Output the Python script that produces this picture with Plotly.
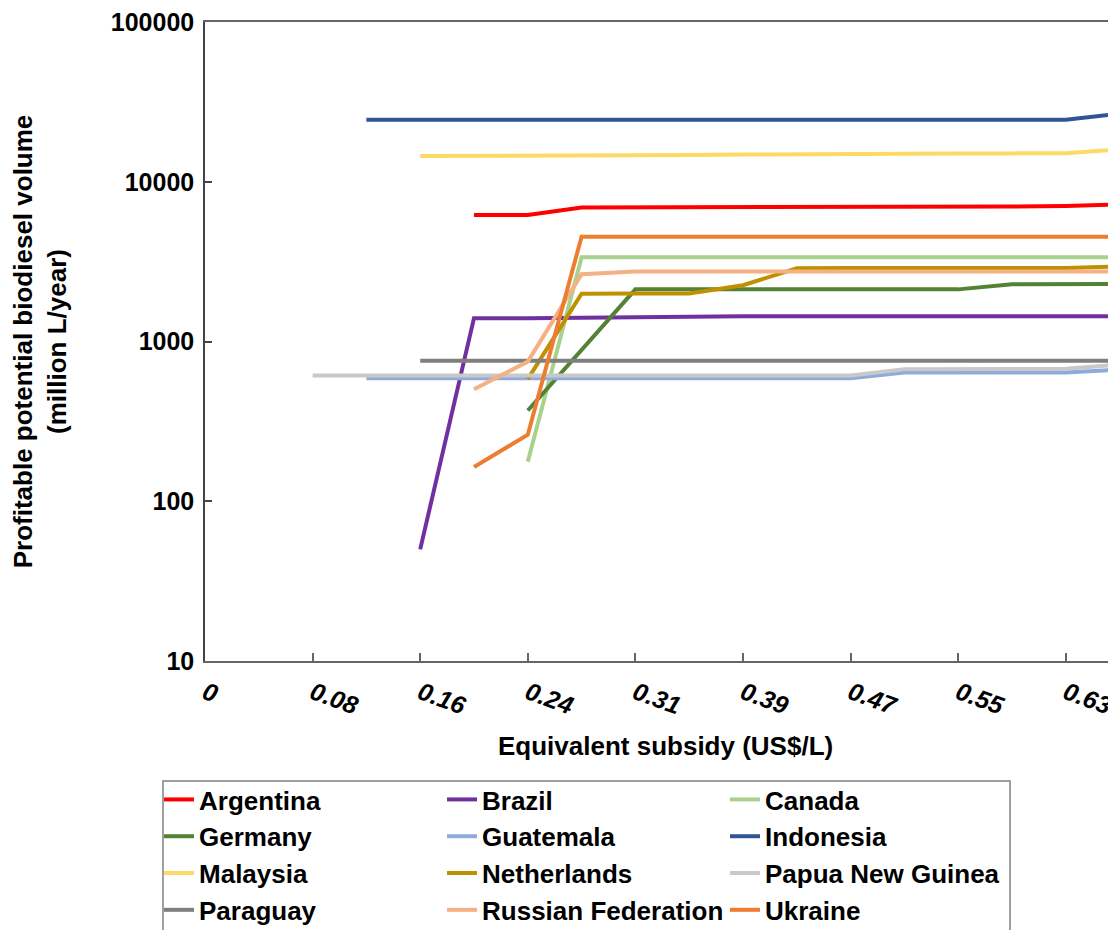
import plotly.graph_objects as go

# Equivalent subsidy (US$/L) at each data point
subsidy = [0.0, 0.0392, 0.0784, 0.1176, 0.1568, 0.1960, 0.2352, 0.2744, 0.3136,
           0.3528, 0.3920, 0.4312, 0.4704, 0.5096, 0.5488, 0.5880, 0.6272, 0.6664]

tick_vals = [0.0, 0.0784, 0.1568, 0.2352, 0.3136, 0.3920, 0.4704, 0.5488, 0.6272]
tick_text = ["0", "0.08", "0.16", "0.24", "0.31", "0.39", "0.47", "0.55", "0.63"]

y_tick_vals = [10, 100, 1000, 10000, 100000]
y_tick_text = ["10", "100", "1000", "10000", "100000"]

N = None
argentina = [N, N, N, N, N, 6200, 6200, 6900, 6900, 6900, 6900, 6900, 6900, 6950, 7000, 7000, 7050, 7200]
brazil = [N, N, N, N, 50, 1400, 1400, 1410, 1430, 1430, 1440, 1440, 1440, 1440, 1440, 1440, 1440, 1440]
canada = [N, N, N, N, N, N, 177, 3370, 3370, 3370, 3370, 3370, 3370, 3370, 3370, 3370, 3370, 3370]
germany = [N, N, N, N, N, N, 370, 890, 2120, 2120, 2120, 2120, 2120, 2120, 2120, 2280, 2280, 2290]
guatemala = [N, N, N, 589, 589, 589, 589, 589, 589, 589, 589, 589, 589, 639, 639, 639, 640, 665]
indonesia = [N, N, N, 24400, 24400, 24400, 24400, 24400, 24400, 24400, 24400, 24400, 24400, 24400, 24400, 24400, 24400, 26700]
malaysia = [N, N, N, N, 14500, 14500, 14500, 14500, 14600, 14700, 14800, 14900, 15000, 15000, 15000, 15050, 15100, 15900]
netherlands = [N, N, N, N, N, N, 581, 1990, 2000, 2000, 2250, 2870, 2880, 2880, 2880, 2880, 2880, 2950]
png = [N, N, 612, 612, 612, 612, 612, 612, 612, 612, 612, 612, 612, 671, 671, 671, 675, 717]
paraguay = [N, N, N, N, 757, 757, 757, 757, 757, 757, 757, 757, 757, 757, 757, 757, 757, 757]
russia = [N, N, N, N, N, 502, 748, 2640, 2740, 2740, 2740, 2740, 2740, 2740, 2740, 2740, 2740, 2740]
ukraine = [N, N, N, N, N, 164, 261, 4530, 4530, 4530, 4530, 4530, 4530, 4530, 4530, 4530, 4530, 4530]

series = [
    ("Argentina", argentina, "#FF0000"),
    ("Brazil", brazil, "#7030A0"),
    ("Canada", canada, "#A9D18E"),
    ("Germany", germany, "#548235"),
    ("Guatemala", guatemala, "#8FAADC"),
    ("Indonesia", indonesia, "#2F5597"),
    ("Malaysia", malaysia, "#FFD966"),
    ("Netherlands", netherlands, "#BF9000"),
    ("Papua New Guinea", png, "#C9C9C9"),
    ("Paraguay", paraguay, "#7F7F7F"),
    ("Russian Federation", russia, "#F4B183"),
    ("Ukraine", ukraine, "#ED7D31"),
]

FONT = "Liberation Sans, Arial, sans-serif"

fig = go.Figure()
for name, vals, color in series:
    fig.add_trace(go.Scatter(
        x=subsidy, y=vals, name=name, mode="lines",
        line=dict(color=color, width=4),
        connectgaps=False,
    ))

# page body has an 8px margin, so the figure is 8px smaller and margins shifted
fig.update_layout(
    width=1108, height=922,
    margin=dict(l=197, r=0, t=14, b=269),
    paper_bgcolor="white", plot_bgcolor="white",
    font=dict(family=FONT, size=26, color="black", weight="bold"),
    showlegend=True,
    legend=dict(
        orientation="h",
        xref="container", yref="container",
        x=0.1363, y=0.167, xanchor="left", yanchor="top",
        entrywidth=238, entrywidthmode="pixels",
        font=dict(family=FONT, size=26, color="black", weight="bold"),
        borderwidth=0, bgcolor="rgba(0,0,0,0)",
        traceorder="normal",
    ),
    xaxis=dict(
        range=[0, 0.6638],
        tickmode="array", tickvals=tick_vals, ticktext=tick_text,
        ticks="inside", ticklen=8, tickwidth=1.5, tickcolor="#666666",
        showline=True, linecolor="#666666", linewidth=1.5, mirror=True,
        showgrid=False, zeroline=False,
        tickangle=20,
        tickfont=dict(family=FONT, size=25, color="black", weight="bold", style="italic"),
        ticklabelstandoff=6,
        ticklabeloverflow="allow",
    ),
    yaxis=dict(
        type="log", range=[1, 5],
        tickmode="array", tickvals=y_tick_vals, ticktext=y_tick_text,
        ticks="inside", ticklen=7, tickwidth=1.5, tickcolor="#444444",
        showline=True, linecolor="#444444", linewidth=1.5,
        showgrid=False, zeroline=False,
        tickfont=dict(family=FONT, size=25, color="black", weight="bold"),
        ticklabelstandoff=4,
        ticklabeloverflow="allow",
        title=dict(text="Profitable potential biodiesel volume<br>(million L/year)",
                   font=dict(family=FONT, size=26, color="black", weight="bold"),
                   standoff=52),
        automargin=False,
    ),
    annotations=[dict(
        text="Equivalent subsidy (US$/L)", xref="paper", yref="paper",
        x=0.505, y=-0.133, xanchor="center", yanchor="middle", showarrow=False,
        font=dict(family=FONT, size=26, color="black", weight="bold"),
    )],
    shapes=[dict(
        type="rect", xref="paper", yref="paper",
        x0=-0.0461, x1=0.8837, y0=-0.46, y1=-0.1878,
        line=dict(color="#808080", width=1.5), fillcolor="rgba(0,0,0,0)",
        layer="below",
    )],
)

fig.write_html("out.html")
